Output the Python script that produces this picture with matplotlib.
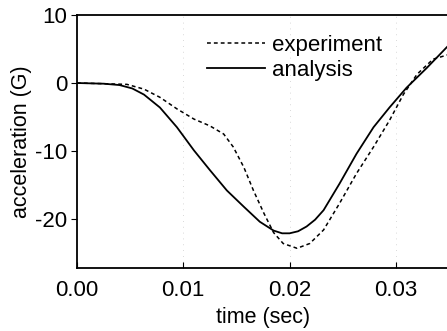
import matplotlib
matplotlib.use("Agg")
import matplotlib.pyplot as plt

plt.rcParams.update({
    "font.family": ["Liberation Sans", "DejaVu Sans"],
    "font.size": 16,
    "axes.unicode_minus": False,
})

# analysis (solid)
t_ana = [0.0, 0.0025, 0.0040, 0.0052, 0.0063, 0.0078, 0.0094, 0.0110, 0.0125, 0.0141,
         0.0157, 0.0172, 0.0185, 0.0193, 0.0200, 0.0208, 0.0216, 0.0224, 0.0232,
         0.0247, 0.0263, 0.0279, 0.0294, 0.0310, 0.0329, 0.0350]
a_ana = [0.0, -0.1, -0.3, -0.8, -1.7, -3.6, -6.5, -9.9, -12.8, -15.8,
         -18.2, -20.4, -21.7, -22.1, -22.1, -21.8, -21.1, -20.1, -18.7,
         -14.8, -10.4, -6.5, -3.6, -0.7, 2.2, 5.6]

# experiment (dashed)
t_exp = [0.0, 0.0025, 0.0047, 0.0063, 0.0078, 0.0094, 0.0110, 0.0125, 0.0138,
         0.0147, 0.0157, 0.0166, 0.0176, 0.0185, 0.0194, 0.0207, 0.0219,
         0.0232, 0.0247, 0.0263, 0.0279, 0.0294, 0.0307, 0.0320, 0.0335, 0.0350]
a_exp = [0.0, -0.1, -0.2, -0.9, -2.1, -3.8, -5.3, -6.3, -7.5,
         -9.4, -12.4, -15.8, -19.2, -22.0, -23.6, -24.3, -23.6,
         -21.6, -17.7, -13.3, -9.4, -5.5, -1.7, 1.3, 3.5, 4.2]

fig = plt.figure(figsize=(4.47, 3.31), dpi=100)
ax = fig.add_axes([77 / 447, 1 - 268 / 331, 372 / 447, 253 / 331])

for xv in [0.01, 0.02, 0.03]:
    ax.axvline(xv, color="#cccccc", linewidth=0.6, linestyle=(0, (1, 6)), zorder=0)

ax.plot(t_exp, a_exp, color="black", linewidth=1.1, linestyle=(0, (2.5, 2)), label="experiment")
ax.plot(t_ana, a_ana, color="black", linewidth=1.3, label="analysis")

ax.set_xlim(0, 0.035)
ax.set_ylim(-27.2, 10)
ax.set_xticks([0.0, 0.01, 0.02, 0.03])
ax.set_xticklabels(["0.00", "0.01", "0.02", "0.03"])
ax.set_yticks([10, 0, -10, -20])
ax.tick_params(axis="x", direction="in", length=4, pad=9)
ax.tick_params(axis="y", direction="out", length=4, pad=3)
for s in ax.spines.values():
    s.set_linewidth(1.3)
ax.spines["right"].set_visible(False)

ax.set_xlabel("time (sec)", labelpad=4, fontsize=15.5)
ax.set_ylabel("acceleration (G)", labelpad=2, fontsize=15.5)

ax.legend(loc="upper left", bbox_to_anchor=(0.314, 0.975), frameon=False,
          handlelength=2.6, handletextpad=0.3, labelspacing=0.2, fontsize=16,
          borderaxespad=0.2)

fig.savefig("out.png", dpi=100)
